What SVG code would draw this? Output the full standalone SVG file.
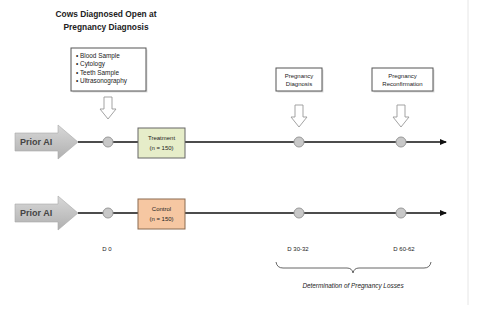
<svg xmlns="http://www.w3.org/2000/svg" width="477" height="324" viewBox="0 0 477 324">
  <style>
    text { font-family: "Liberation Sans", Arial, sans-serif; fill: #222; }
    .title { font-size: 8.4px; font-weight: bold; text-anchor: middle; }
    .small { font-size: 6.4px; }
    .lbl { font-size: 6px; text-anchor: middle; }
    .box { fill: #fff; stroke: #555; stroke-width: 1; }
    .tl { stroke: #111; stroke-width: 1.6; fill: none; }
    .dot { fill: #c8c8c8; stroke: #999; stroke-width: 1; }
    .hollow { fill: #fff; stroke: #999; stroke-width: 0.9; }
    .prior { fill: url(#grayGrad); stroke: #aaa; stroke-width: 0.6; }
    .priortxt { font-size: 9px; font-weight: bold; fill: #444; }
  </style>
  <defs>
    <linearGradient id="grayGrad" x1="0" y1="0" x2="0" y2="1">
      <stop offset="0" stop-color="#d8d8d8"/>
      <stop offset="1" stop-color="#b0b0b0"/>
    </linearGradient>
    <marker id="head" markerWidth="8" markerHeight="8" refX="6" refY="3" orient="auto" markerUnits="userSpaceOnUse">
      <path d="M0,0 L7,3 L0,6 Z" fill="#111"/>
    </marker>
    <path id="downArrow" d="M-4,0 L4,0 L4,12 L8,12 L0,22 L-8,12 L-4,12 Z"/>
  </defs>

  <rect x="0" y="0" width="477" height="324" fill="#fff"/>
  <line x1="468" y1="0" x2="468" y2="305" stroke="#e6e6e6" stroke-width="1"/>

  <!-- Connectors: timelines and hollow pointer arrows -->
  <g id="connectors">
    <line class="tl" x1="78" y1="142" x2="446" y2="142" marker-end="url(#head)"/>
    <line class="tl" x1="78" y1="213" x2="446" y2="213" marker-end="url(#head)"/>
    <use href="#downArrow" class="hollow" x="108" y="97"/>
    <use href="#downArrow" class="hollow" x="299" y="105"/>
    <use href="#downArrow" class="hollow" x="401" y="105"/>
  </g>

  <!-- Heading -->
  <g id="heading">
    <text class="title" x="106" y="17">Cows Diagnosed Open at</text>
    <text class="title" x="106" y="30">Pregnancy Diagnosis</text>
  </g>

  <!-- Sample list (box with a soft drop shadow) -->
  <g id="samples">
    <rect x="72.5" y="49.5" width="75" height="43" fill="#ddd"/>
    <rect class="box" x="71" y="48" width="75" height="43"/>
    <text class="small" x="76" y="57.5">•  Blood Sample</text>
    <text class="small" x="76" y="66">•  Cytology</text>
    <text class="small" x="76" y="74.5">•  Teeth Sample</text>
    <text class="small" x="76" y="83">•  Ultrasonography</text>
  </g>

  <!-- Event boxes -->
  <g id="pregDiag">
    <rect x="277.5" y="69.5" width="46" height="23" fill="#ddd"/>
    <rect class="box" x="276" y="68" width="46" height="23"/>
    <text class="lbl" x="299" y="78">Pregnancy</text>
    <text class="lbl" x="299" y="86">Diagnosis</text>
  </g>
  <g id="pregReconf">
    <rect x="373.5" y="69.5" width="61" height="23" fill="#ddd"/>
    <rect class="box" x="372" y="68" width="61" height="23"/>
    <text class="lbl" x="402.5" y="78">Pregnancy</text>
    <text class="lbl" x="402.5" y="86">Reconfirmation</text>
  </g>

  <!-- Treatment timeline -->
  <g id="priorAI1">
    <path class="prior" d="M15,133 L58,133 L58,125 L78,142 L58,159 L58,151 L15,151 Z"/>
    <text class="priortxt" x="20" y="145">Prior AI</text>
  </g>
  <g id="treatment">
    <rect x="138" y="128" width="47" height="30" fill="#e6edc9" stroke="#666" stroke-width="1"/>
    <text class="lbl" x="161.5" y="140">Treatment</text>
    <text class="lbl" x="161.5" y="150">(n = 150)</text>
  </g>
  <g id="t1-points">
    <circle class="dot" cx="108" cy="142" r="5"/>
    <circle class="dot" cx="299" cy="142" r="5"/>
    <circle class="dot" cx="401" cy="142" r="5"/>
  </g>

  <!-- Control timeline -->
  <g id="priorAI2">
    <path class="prior" d="M15,204 L58,204 L58,196 L78,213 L58,230 L58,222 L15,222 Z"/>
    <text class="priortxt" x="20" y="216">Prior AI</text>
  </g>
  <g id="control">
    <rect x="138" y="199" width="47" height="30" fill="#f6c7a2" stroke="#8a6a50" stroke-width="1"/>
    <text class="lbl" x="161.5" y="211">Control</text>
    <text class="lbl" x="161.5" y="221">(n = 150)</text>
  </g>
  <g id="t2-points">
    <circle class="dot" cx="108" cy="213" r="5"/>
    <circle class="dot" cx="299" cy="213" r="5"/>
    <circle class="dot" cx="401" cy="213" r="5"/>
  </g>

  <!-- Day labels -->
  <g id="days">
    <text class="lbl" x="107" y="251">D 0</text>
    <text class="lbl" x="298" y="251">D 30-32</text>
    <text class="lbl" x="404" y="251">D 60-62</text>
  </g>

  <!-- Brace and caption -->
  <g id="losses">
    <path d="M276,262 Q277,268 283,268 L347,268 Q352,268 353,273 Q354,268 359,268 L424,268 Q430,268 431,262" fill="none" stroke="#555" stroke-width="0.9"/>
    <text x="353" y="288" style="font-size:6.4px; font-style:italic; text-anchor:middle">Determination of Pregnancy Losses</text>
  </g>
</svg>
